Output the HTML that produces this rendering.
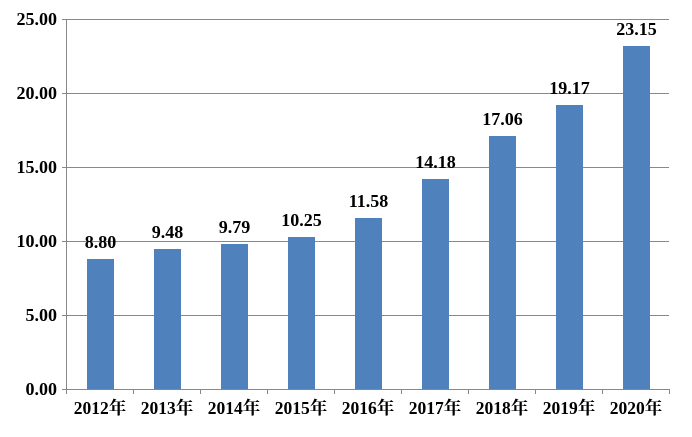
<!DOCTYPE html>
<html><head><meta charset="utf-8"><style>body{margin:0;background:#fff}</style></head><body>
<svg width="692" height="432" xmlns="http://www.w3.org/2000/svg" font-family="Liberation Serif, Noto Serif CJK SC, serif" font-weight="bold">
<g stroke="#888" stroke-width="1">
<line x1="62" y1="19.5" x2="669" y2="19.5"/>
<line x1="62" y1="93.5" x2="669" y2="93.5"/>
<line x1="62" y1="167.5" x2="669" y2="167.5"/>
<line x1="62" y1="241.5" x2="669" y2="241.5"/>
<line x1="62" y1="315.5" x2="669" y2="315.5"/>
<line x1="62" y1="389.5" x2="669" y2="389.5"/>
<line x1="66.5" y1="19" x2="66.5" y2="394"/>
</g>
<g stroke="#888"><line x1="133.5" y1="389" x2="133.5" y2="394"/><line x1="200.5" y1="389" x2="200.5" y2="394"/><line x1="267.5" y1="389" x2="267.5" y2="394"/><line x1="334.5" y1="389" x2="334.5" y2="394"/><line x1="401.5" y1="389" x2="401.5" y2="394"/><line x1="468.5" y1="389" x2="468.5" y2="394"/><line x1="535.5" y1="389" x2="535.5" y2="394"/><line x1="602.5" y1="389" x2="602.5" y2="394"/><line x1="669.5" y1="389" x2="669.5" y2="394"/></g>
<g font-size="18" text-anchor="end" fill="#000">
<text x="57" y="25">25.00</text><text x="57" y="99">20.00</text><text x="57" y="173">15.00</text><text x="57" y="247">10.00</text><text x="57" y="321">5.00</text><text x="57" y="395">0.00</text>
</g>
<g fill="#4f81bd">
<rect x="87" y="259" width="27" height="130"/>
<rect x="154" y="249" width="27" height="140"/>
<rect x="221" y="244" width="27" height="145"/>
<rect x="288" y="237" width="27" height="152"/>
<rect x="355" y="218" width="27" height="171"/>
<rect x="422" y="179" width="27" height="210"/>
<rect x="489" y="136" width="27" height="253"/>
<rect x="556" y="105" width="27" height="284"/>
<rect x="623" y="46" width="27" height="343"/>
</g>
<g font-size="18" text-anchor="middle" fill="#000">
<text x="100.5" y="248">8.80</text>
<text x="167.5" y="238">9.48</text>
<text x="234.5" y="233">9.79</text>
<text x="301.5" y="226">10.25</text>
<text x="368.5" y="207">11.58</text>
<text x="435.5" y="168">14.18</text>
<text x="502.5" y="125">17.06</text>
<text x="569.5" y="94">19.17</text>
<text x="636.5" y="35">23.15</text>
</g>
<g font-size="17.5" text-anchor="middle" fill="#000">
<text x="100" y="414">2012年</text><text x="167" y="414">2013年</text><text x="234" y="414">2014年</text><text x="301" y="414">2015年</text><text x="368" y="414">2016年</text><text x="435" y="414">2017年</text><text x="502" y="414">2018年</text><text x="569" y="414">2019年</text><text x="636" y="414">2020年</text>
</g>
</svg>
</body></html>
